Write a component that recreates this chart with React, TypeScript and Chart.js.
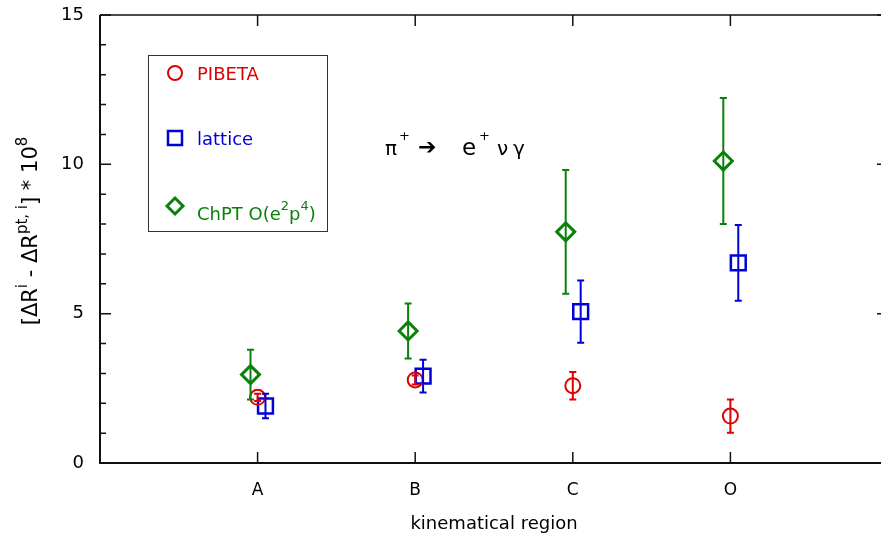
import React, { useEffect, useRef } from "react";
import { Chart, registerables } from "chart.js";

Chart.register(...registerables);

const categories = ["A", "B", "C", "O"];
const yTicks = [0, 5, 10, 15];

const pibeta = [2.2, 2.78, 2.59, 1.57];
const pibetaErr = [0.12, 0.15, 0.46, 0.56];

const lattice = [1.91, 2.91, 5.07, 6.7];
const latticeErr = [0.41, 0.55, 1.04, 1.27];

const chpt = [2.96, 4.42, 7.74, 10.11];
const chptErr = [0.83, 0.92, 2.07, 2.11];

const RED = "#e00000";
const BLUE = "#0000d8";
const GREEN = "#0a820a";
const FONT = "'DejaVu Sans', sans-serif";

const mk = (vals: number[], off: number) =>
  vals.map((v, i) => ({ x: i + 1 + off, y: v }));

const errorBarPlugin = {
  id: "errorBars",
  afterDatasetsDraw(chart: any) {
    const { ctx } = chart;
    const xs = chart.scales.x;
    const ys = chart.scales.y;
    chart.data.datasets.forEach((ds: any) => {
      ctx.save();
      ctx.strokeStyle = ds.borderColor;
      ctx.lineWidth = 2;
      ds.data.forEach((p: any, i: number) => {
        const e = ds.errors[i];
        const px = xs.getPixelForValue(p.x);
        const y1 = ys.getPixelForValue(p.y + e);
        const y2 = ys.getPixelForValue(p.y - e);
        ctx.beginPath();
        ctx.moveTo(px, y1);
        ctx.lineTo(px, y2);
        ctx.moveTo(px - 3.5, y1);
        ctx.lineTo(px + 3.5, y1);
        ctx.moveTo(px - 3.5, y2);
        ctx.lineTo(px + 3.5, y2);
        ctx.stroke();
      });
      ctx.restore();
    });
  },
};

const framePlugin = {
  id: "frame",
  afterDraw(chart: any) {
    const { ctx, chartArea: a } = chart;
    const xs = chart.scales.x;
    const ys = chart.scales.y;
    ctx.save();
    ctx.strokeStyle = "#111";
    ctx.lineWidth = 1.5;
    ctx.beginPath();
    ctx.moveTo(a.left, a.top);
    ctx.lineTo(a.right, a.top);
    ctx.lineTo(a.right, a.bottom);
    ctx.stroke();
    ctx.lineWidth = 2;
    ctx.beginPath();
    ctx.moveTo(a.left, a.top);
    ctx.lineTo(a.left, a.bottom);
    ctx.lineTo(a.right, a.bottom);
    ctx.stroke();
    ctx.lineWidth = 1.5;
    ctx.beginPath();
    for (let v = ys.min; v <= ys.max; v++) {
      const py = ys.getPixelForValue(v);
      const len = v % 5 === 0 ? 11 : 6;
      ctx.moveTo(a.left, py);
      ctx.lineTo(a.left + len, py);
      ctx.moveTo(a.right, py);
      ctx.lineTo(a.right - len, py);
    }
    categories.forEach((_, i) => {
      const px = xs.getPixelForValue(i + 1);
      ctx.moveTo(px, a.bottom);
      ctx.lineTo(px, a.bottom - 11);
      ctx.moveTo(px, a.top);
      ctx.lineTo(px, a.top + 11);
    });
    ctx.stroke();

    // legend box
    ctx.lineWidth = 1;
    ctx.strokeStyle = "#333";
    ctx.strokeRect(148.5, 55.5, 179, 176);
    const items = [
      { label: "PIBETA", color: RED, y: 73, style: "circle" },
      { label: "lattice", color: BLUE, y: 138, style: "rect" },
      { label: "ChPT O(e", color: GREEN, y: 206, style: "rectRot" },
    ];
    items.forEach((it, idx) => {
      const ds = chart.data.datasets[idx];
      ctx.save();
      ctx.strokeStyle = it.color;
      ctx.lineWidth = ds.borderWidth;
      ctx.beginPath();
      if (it.style === "circle") {
        ctx.arc(175, it.y, 7, 0, Math.PI * 2);
      } else if (it.style === "rect") {
        ctx.rect(168, it.y - 7, 14, 14);
      } else {
        ctx.moveTo(175 - 8, it.y);
        ctx.lineTo(175, it.y - 8);
        ctx.lineTo(175 + 8, it.y);
        ctx.lineTo(175, it.y + 8);
        ctx.closePath();
      }
      ctx.stroke();
      ctx.restore();
      ctx.fillStyle = it.color;
      ctx.textAlign = "left";
      ctx.textBaseline = "alphabetic";
      if (idx < 2) {
        ctx.font = `18px ${FONT}`;
        ctx.fillText(it.label, 197, it.y + 7);
      } else {
        let x = 197;
        const by = it.y + 14;
        const seg = (t: string, sup: boolean) => {
          ctx.font = sup ? `13px ${FONT}` : `18px ${FONT}`;
          ctx.fillText(t, x, sup ? by - 10 : by);
          x += ctx.measureText(t).width;
        };
        seg("ChPT O(e", false);
        seg("2", true);
        seg("p", false);
        seg("4", true);
        seg(")", false);
      }
    });

    // reaction annotation
    ctx.fillStyle = "#000";
    ctx.textBaseline = "alphabetic";
    ctx.textAlign = "left";
    const base = 155;
    ctx.font = `20px ${FONT}`;
    ctx.fillText("π", 385, base);
    ctx.font = `13px ${FONT}`;
    ctx.fillText("+", 399, base - 15);
    ctx.font = `22px ${FONT}`;
    ctx.fillText("➔", 418, base - 1);
    ctx.font = `23px ${FONT}`;
    ctx.fillText("e", 462, base);
    ctx.font = `13px ${FONT}`;
    ctx.fillText("+", 479, base - 15);
    ctx.font = `20px ${FONT}`;
    ctx.fillText("ν", 497, base);
    ctx.fillText("γ", 513, base);

    // y title
    ctx.save();
    ctx.translate(37, 231);
    ctx.rotate(-Math.PI / 2);
    const parts: [string, boolean][] = [
      ["[ΔR", false],
      ["i", true],
      [" - ΔR", false],
      ["pt, i", true],
      ["] * 10", false],
      ["8", true],
    ];
    const mainF = `21px ${FONT}`;
    const supF = `15px ${FONT}`;
    let total = 0;
    parts.forEach(([t, s]) => {
      ctx.font = s ? supF : mainF;
      total += ctx.measureText(t).width;
    });
    let x = -total / 2;
    ctx.textBaseline = "alphabetic";
    ctx.textAlign = "left";
    parts.forEach(([t, s]) => {
      ctx.font = s ? supF : mainF;
      ctx.fillText(t, x, s ? -10 : 0);
      x += ctx.measureText(t).width;
    });
    ctx.restore();
    ctx.restore();
  },
};

export default function App() {
  const ref = useRef<HTMLCanvasElement>(null);
  useEffect(() => {
    if (!ref.current) return;
    const chart = new Chart(ref.current, {
      type: "scatter",
      data: {
        datasets: [
          {
            label: "PIBETA",
            data: mk(pibeta, 0),
            errors: pibetaErr,
            borderColor: RED,
            backgroundColor: "rgba(0,0,0,0)",
            pointStyle: "circle",
            pointRadius: 7.5,
            borderWidth: 2,
          } as any,
          {
            label: "lattice",
            data: mk(lattice, 0.05),
            errors: latticeErr,
            borderColor: BLUE,
            backgroundColor: "rgba(0,0,0,0)",
            pointStyle: "rect",
            pointRadius: 10.5,
            borderWidth: 2.5,
          } as any,
          {
            label: "ChPT O(e2p4)",
            data: mk(chpt, -0.045),
            errors: chptErr,
            borderColor: GREEN,
            backgroundColor: "rgba(0,0,0,0)",
            pointStyle: "rectRot",
            pointRadius: 9,
            borderWidth: 3,
          } as any,
        ],
      },
      options: {
        animation: false,
        responsive: false,
        devicePixelRatio: 1,
        layout: { padding: { left: 0, right: 4, top: 15, bottom: 0 } },
        plugins: {
          legend: { display: false },
          tooltip: { enabled: false },
        },
        scales: {
          x: {
            type: "linear",
            min: 0,
            max: 5,
            grid: { display: false, drawTicks: false, tickLength: 0 },
            border: { display: false },
            afterBuildTicks: (s: any) => {
              s.ticks = categories.map((_, i) => ({ value: i + 1 }));
            },
            afterFit: (s: any) => {
              s.height = 77;
              s.paddingLeft = 0;
              s.paddingRight = 0;
            },
            ticks: {
              padding: 17,
              color: "#000",
              font: { family: FONT, size: 17 },
              callback: (v: any) => categories[Math.round(v) - 1] ?? "",
            },
            title: {
              display: true,
              text: "kinematical region",
              color: "#000",
              font: { family: FONT, size: 18 },
              padding: { top: 0, bottom: 5 },
            },
          },
          y: {
            type: "linear",
            min: 0,
            max: 15,
            grid: { display: false, drawTicks: false, tickLength: 0 },
            border: { display: false },
            afterBuildTicks: (s: any) => {
              s.ticks = yTicks.map((v) => ({ value: v }));
            },
            afterFit: (s: any) => {
              s.width = 100;
              s.paddingTop = 0;
              s.paddingBottom = 0;
            },
            ticks: {
              padding: 16,
              color: "#000",
              font: { family: FONT, size: 18 },
            },
          },
        },
      },
      plugins: [errorBarPlugin, framePlugin],
    } as any);
    return () => chart.destroy();
  }, []);
  return (
    <div
      style={{
        position: "absolute",
        left: 0,
        top: 0,
        width: 881,
        height: 540,
        overflow: "hidden",
        background: "#fff",
      }}
    >
      <canvas ref={ref} width={901} height={540} style={{ display: "block" }} />
    </div>
  );
}
